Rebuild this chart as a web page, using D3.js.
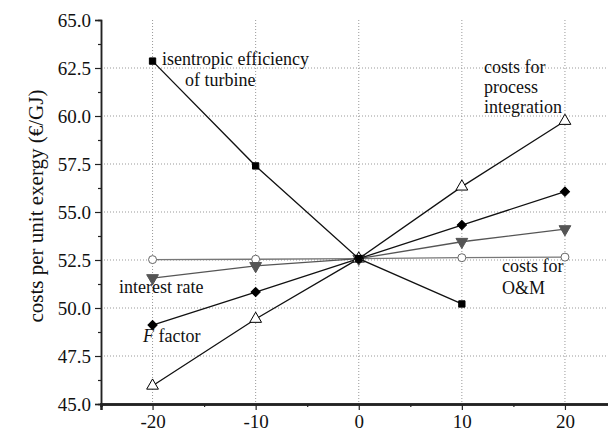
<!DOCTYPE html>
<html><head><meta charset="utf-8">
<script src="https://cdn.jsdelivr.net/npm/d3@7"></script>
</head><body style="margin:0;background:#fff">
<svg id="c" width="608" height="432"></svg>
<script>
const xValues = [-20, -10, 0, 10, 20];
const isentropic = [62.86, 57.40, 52.57, 50.21, null];
const processIntegration = [45.95, 49.43, 52.57, 56.32, 59.74];
const fFactor = [49.11, 50.83, 52.57, 54.32, 56.06];
const interestRate = [51.56, 52.19, 52.57, 53.45, 54.11];
const omCosts = [52.52, 52.54, 52.57, 52.62, 52.65];
const yTicks = [45.0, 47.5, 50.0, 52.5, 55.0, 57.5, 60.0, 62.5, 65.0];
const xTicks = [-20, -10, 0, 10, 20];

const FONT = "Liberation Serif";
const svg = d3.select("#c");
const x = d3.scaleLinear().domain([-25, 25]).range([101, 616.5]);
const y = d3.scaleLinear().domain([45, 65]).range([404, 20]);

const g = svg.append("g");
g.selectAll(".hg").data(yTicks.filter(d => d > 45 && d < 65)).join("line")
  .attr("x1", 101).attr("x2", 608).attr("y1", d => y(d)).attr("y2", d => y(d))
  .attr("stroke", "#999").attr("stroke-dasharray", "1,2");
g.selectAll(".vg").data(xTicks).join("line")
  .attr("x1", d => x(d)).attr("x2", d => x(d)).attr("y1", 20).attr("y2", 404)
  .attr("stroke", "#999").attr("stroke-dasharray", "1,2");

const yAxis = svg.append("g").attr("transform", "translate(101,0)")
  .call(d3.axisLeft(y).tickValues(yTicks).tickFormat(d => d.toFixed(1)).tickSize(6).tickPadding(4));
const yMinor = svg.append("g").attr("transform", "translate(101,0)")
  .call(d3.axisLeft(y).tickValues(d3.range(46.25, 65, 2.5)).tickFormat("").tickSize(3));
const xAxis = svg.append("g").attr("transform", "translate(0,404)")
  .call(d3.axisBottom(x).tickValues(xTicks).tickFormat(d => String(d)).tickSize(6).tickPadding(5));
const xMinor = svg.append("g").attr("transform", "translate(0,404)")
  .call(d3.axisBottom(x).tickValues([-15, -5, 5, 15]).tickFormat("").tickSize(3));
[yAxis, yMinor, xAxis, xMinor].forEach(a => {
  a.attr("font-family", FONT).attr("font-size", 19);
  a.selectAll(".domain").attr("stroke", "#222").attr("stroke-width", 1.5);
  a.selectAll(".tick line").attr("stroke", "#222").attr("stroke-width", 1.2);
  a.selectAll(".tick text").attr("fill", "#111");
});
xAxis.select(".domain").attr("stroke-width", 2.5);
xMinor.select(".domain").attr("stroke-width", 2.5);

svg.append("text").attr("transform", "translate(43,206) rotate(-90)")
  .attr("text-anchor", "middle").attr("font-size", 21).attr("fill", "#111").attr("font-family", FONT)
  .text("costs per unit exergy (€/GJ)");

const series = [
  {vals: omCosts, line: "#777", marker: "circle", fill: "#fff", mstroke: "#666"},
  {vals: interestRate, line: "#555", marker: "down", fill: "#555", mstroke: "#555"},
  {vals: fFactor, line: "#111", marker: "diamond", fill: "#000", mstroke: "#000"},
  {vals: processIntegration, line: "#111", marker: "triangle", fill: "#fff", mstroke: "#000"},
  {vals: isentropic, line: "#111", marker: "square", fill: "#000", mstroke: "#000"}
];
const lineGen = d3.line().defined(d => d[1] != null).x(d => x(d[0])).y(d => y(d[1]));
const symbols = {
  circle: d3.symbol().type(d3.symbolCircle).size(50),
  diamond: d3.symbol().type(d3.symbolSquare).size(42),
  triangle: d3.symbol().type(d3.symbolTriangle).size(60),
  down: d3.symbol().type(d3.symbolTriangle).size(60),
  square: d3.symbol().type(d3.symbolSquare).size(40)
};
const rot = {down: " rotate(180)", diamond: " rotate(45)"};
series.forEach(s => {
  const pts = xValues.map((v, i) => [v, s.vals[i]]);
  svg.append("path").datum(pts).attr("d", lineGen).attr("fill", "none")
    .attr("stroke", s.line).attr("stroke-width", 1.3);
  svg.append("g").selectAll("path").data(pts.filter(d => d[1] != null)).join("path")
    .attr("d", symbols[s.marker]())
    .attr("transform", d => `translate(${x(d[0])},${y(d[1])})` + (rot[s.marker] || ""))
    .attr("fill", s.fill).attr("stroke", s.mstroke).attr("stroke-width", 1);
});

const labels = [
  {t: "isentropic efficiency", x: 162, y: 65},
  {t: "of turbine", x: 185, y: 86},
  {t: "costs for", x: 484, y: 73},
  {t: "process", x: 484, y: 93},
  {t: "integration", x: 484, y: 113},
  {t: "costs for", x: 502, y: 272},
  {t: "O&M", x: 502, y: 294},
  {t: "interest rate", x: 119, y: 293}
];
labels.forEach(d => {
  svg.append("text").attr("x", d.x).attr("y", d.y).attr("font-family", FONT)
    .attr("font-size", 18).attr("fill", "#111").text(d.t);
});
const ft = svg.append("text").attr("x", 143).attr("y", 342).attr("font-size", 18).attr("fill", "#111").attr("font-family", FONT);
ft.append("tspan").attr("font-style", "italic").text("F");
ft.append("tspan").text(" factor");
</script></body></html>
